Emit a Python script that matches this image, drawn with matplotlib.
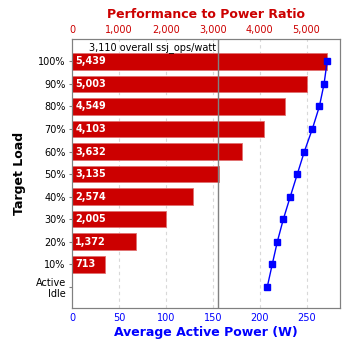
import matplotlib
matplotlib.use("Agg")
import matplotlib.pyplot as plt

loads = ["Active\nIdle", "10%", "20%", "30%", "40%", "50%", "60%", "70%", "80%", "90%", "100%"]
ratio = [0, 713, 1372, 2005, 2574, 3135, 3632, 4103, 4549, 5003, 5439]
power = [208.2, 213.5, 218.9, 225.3, 232.7, 240.2, 247.7, 256.2, 263.7, 268.7, 272.0]
overall = 3110

RED = "#cc0000"
BLUE = "#0000ff"
GRAY = "#808080"

fig = plt.figure(figsize=(3.48, 3.48), dpi=100)
ax = fig.add_axes([0.2069, 0.1158, 0.7701, 0.7712])
top = ax.twiny()

pos = list(range(len(loads)))
pmax = 285.7
ax.set_xlim(0, pmax)
top.set_xlim(0, pmax * 20)
ax.set_ylim(-0.93, 10.98)

# grid on the ratio axis so the bars hide it
for x in [1000, 2000, 3000, 4000, 5000]:
    top.axvline(x, color="#d8d8d8", linestyle=(0, (3, 3)), linewidth=0.8, zorder=0)

top.barh(pos[1:], ratio[1:], height=0.74, color=RED, edgecolor="#e07070", linewidth=0.6, zorder=2)
for y, r in zip(pos[1:], ratio[1:]):
    top.text(70, y, f"{r:,}", color="white", fontweight="bold", fontsize=7,
             va="center", ha="left", zorder=4)

top.axvline(overall, color=GRAY, linewidth=1.0, zorder=3)
top.text(overall - 30, 10.6, f"{overall:,} overall ssj_ops/watt", fontsize=7,
         ha="right", va="center", color="black")

ax.set_zorder(top.get_zorder() + 1)
ax.patch.set_visible(False)
ax.plot(power, pos, color=BLUE, linewidth=1.0, marker="s", markersize=5,
        markerfacecolor=BLUE, markeredgecolor=BLUE, zorder=5)

ax.set_yticks(pos)
ax.set_yticklabels(loads, fontsize=7)
ax.tick_params(axis="y", length=2.5, color=GRAY, pad=2)
ax.set_xticks([0, 50, 100, 150, 200, 250])
ax.tick_params(axis="x", length=0, colors=BLUE, labelsize=7, pad=4)
ax.set_xlabel("Average Active Power (W)", color=BLUE, fontweight="bold", fontsize=9, labelpad=2)
ax.set_ylabel("Target Load", fontweight="bold", fontsize=9, labelpad=7)

top.set_xticks([0, 1000, 2000, 3000, 4000, 5000])
top.set_xticklabels(["0", "1,000", "2,000", "3,000", "4,000", "5,000"])
top.tick_params(axis="x", length=0, colors=RED, labelsize=7, pad=3)
top.set_title("Performance to Power Ratio", color=RED, fontweight="bold", fontsize=9, pad=5)

for a in (ax, top):
    for s in a.spines.values():
        s.set_color(GRAY)

fig.savefig("out.png", dpi=100)
